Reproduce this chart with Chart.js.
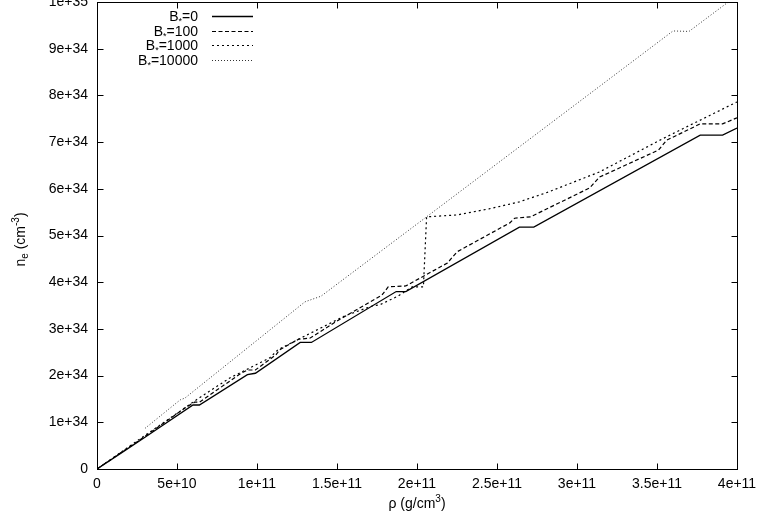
<!DOCTYPE html>
<html>
<head>
<meta charset="utf-8">
<script src="https://cdn.jsdelivr.net/npm/chart.js@4.4.0/dist/chart.umd.min.js"></script>
<style>
  html, body { margin: 0; padding: 0; background: #fff; }
</style>
</head>
<body>
<canvas id="neChart" width="759" height="527"></canvas>
<script>
// rho in units of 1e10 g/cm^3, n_e in units of 1e34 cm^-3
const b0 = [[0,0],[1.5,0.34],[3,0.68],[6.0,1.37],[6.4,1.37],[9.4,2.02],[9.9,2.05],[12.7,2.71],[13.4,2.71],
  [18.7,3.80],[19.3,3.80],[26.4,5.18],[27.3,5.18],[37.7,7.15],[39.1,7.15],[40,7.30]];
const b100 = [[0,0],[3,0.70],[5.6,1.33],[6.1,1.43],[6.4,1.43],[9.0,2.05],[9.4,2.12],[9.9,2.12],[11.2,2.45],
  [11.4,2.55],[12.6,2.78],[13.3,2.80],[14.6,3.08],[14.9,3.15],[17.8,3.72],[18.2,3.90],[19.3,3.92],[21.9,4.41],
  [22.5,4.65],[25.8,5.27],[26.1,5.37],[27.1,5.40],[30.8,6.02],[31.4,6.25],[35.1,6.83],[35.6,7.04],[37.7,7.39],
  [39.1,7.39],[40,7.52]];
const b1000 = [[0,0],[3,0.72],[4.2,1.0],[6.2,1.48],[8.3,1.95],[10.8,2.38],[11.3,2.55],[13.0,2.85],[15.5,3.28],
  [17.2,3.49],[17.7,3.52],[18.8,3.70],[19.7,3.90],[20.4,3.90],[20.6,5.40],[22.5,5.44],[24.5,5.57],[26.4,5.72],
  [28.2,5.93],[31.4,6.36],[35.4,7.08],[40,7.86]];
const b10000 = [[3.0,0.87],[5.2,1.48],[5.5,1.52],[13.0,3.58],[14.0,3.70],[20.6,5.40],[36.0,9.38],[37.0,9.37],[40,10.14]];

const seriesNames = ['B*=0', 'B*=100', 'B*=1000', 'B*=10000'];
const xTickLabels = ['0', '5e+10', '1e+11', '1.5e+11', '2e+11', '2.5e+11', '3e+11', '3.5e+11', '4e+11'];
const yTickLabels = ['0', '1e+34', '2e+34', '3e+34', '4e+34', '5e+34', '6e+34', '7e+34', '8e+34', '9e+34', '1e+35'];
// axis titles with sub/superscripts: [text, shift] (shift >0 raised, <0 lowered)
const xTitle = [['ρ (g/cm', 0], ['3', 1], [')', 0]];
const yTitle = [['n', 0], ['e', -1], [' (cm', 0], ['-3', 1], [')', 0]];

const FONT = 'Liberation Sans, Arial, Helvetica, sans-serif';
const toXY = pts => pts.map(p => ({ x: p[0], y: p[1] }));

function drawRich(ctx, parts, cx, cy, angle) {
  const fontFor = s => (s === 0 ? '14px ' : '10px ') + FONT;
  let total = 0;
  const widths = parts.map(p => { ctx.font = fontFor(p[1]); const w = ctx.measureText(p[0]).width; total += w; return w; });
  ctx.save();
  ctx.translate(cx, cy);
  ctx.rotate(angle);
  ctx.fillStyle = '#000';
  ctx.textAlign = 'left';
  ctx.textBaseline = 'alphabetic';
  let x = -total / 2;
  parts.forEach((p, i) => {
    ctx.font = fontFor(p[1]);
    const dy = p[1] > 0 ? -6 : (p[1] < 0 ? 3 : 0);
    ctx.fillText(p[0], x, 5 + dy);
    x += widths[i];
  });
  ctx.restore();
}

// gnuplot-like border with inward ticks on all four sides, plus axis titles
const frameTicks = {
  id: 'frameTicks',
  afterDraw(chart) {
    const { ctx, chartArea: a, scales: { x, y } } = chart;
    const L = Math.round(a.left) + 0.5, R = Math.round(a.right) + 0.5;
    const T = Math.round(a.top) + 0.5, B = Math.round(a.bottom) + 0.5;
    ctx.save();
    ctx.strokeStyle = '#000';
    ctx.lineWidth = 1;
    ctx.setLineDash([]);
    ctx.strokeRect(L, T, R - L, B - T);
    ctx.beginPath();
    x.ticks.forEach(t => {
      const px = Math.round(x.getPixelForValue(t.value)) + 0.5;
      ctx.moveTo(px, B); ctx.lineTo(px, B - 6);
      ctx.moveTo(px, T); ctx.lineTo(px, T + 6);
    });
    y.ticks.forEach(t => {
      const py = Math.round(y.getPixelForValue(t.value)) + 0.5;
      ctx.moveTo(L, py); ctx.lineTo(L + 6, py);
      ctx.moveTo(R, py); ctx.lineTo(R - 6, py);
    });
    ctx.stroke();
    ctx.restore();
    drawRich(ctx, xTitle, (a.left + a.right) / 2, 503, 0);
    drawRich(ctx, yTitle, 20, (a.top + a.bottom) / 2 + 4, -Math.PI / 2);
  }
};

// key in the top left corner: text right aligned, sample line after it
const keyBox = {
  id: 'keyBox',
  afterDraw(chart) {
    const { ctx, chartArea: a } = chart;
    ctx.save();
    chart.data.datasets.forEach((ds, i) => {
      const cy = a.top + 14 + i * 14.7;
      const base = cy + 5;
      const parts = ds.label.split('*');
      ctx.font = '14px ' + FONT;
      const w1 = ctx.measureText(parts[0]).width;
      const w3 = ctx.measureText(parts[1]).width;
      ctx.font = '9px ' + FONT;
      const w2 = ctx.measureText('*').width;
      let tx = a.left + 101 - (w1 + w2 + w3);
      ctx.fillStyle = '#000';
      ctx.textBaseline = 'alphabetic';
      ctx.textAlign = 'left';
      ctx.font = '14px ' + FONT;
      ctx.fillText(parts[0], tx, base);
      ctx.font = '9px ' + FONT;
      ctx.fillText('*', tx + w1, base + 3);
      ctx.font = '14px ' + FONT;
      ctx.fillText(parts[1], tx + w1 + w2, base);
      ctx.strokeStyle = ds.borderColor;
      ctx.lineWidth = ds.borderWidth;
      ctx.setLineDash(ds.borderDash || []);
      ctx.beginPath();
      ctx.moveTo(a.left + 115, Math.round(cy) + 0.5);
      ctx.lineTo(a.left + 156, Math.round(cy) + 0.5);
      ctx.stroke();
    });
    ctx.restore();
  }
};

const neChart = new Chart(document.getElementById('neChart').getContext('2d'), {
  type: 'line',
  data: {
    datasets: [
      { label: seriesNames[0], data: toXY(b0), borderColor: '#000', borderWidth: 1.3, borderDash: [] },
      { label: seriesNames[1], data: toXY(b100), borderColor: '#000', borderWidth: 1.2, borderDash: [4, 2.5] },
      { label: seriesNames[2], data: toXY(b1000), borderColor: '#000', borderWidth: 1.2, borderDash: [2, 3] },
      { label: seriesNames[3], data: toXY(b10000), borderColor: '#333', borderWidth: 1, borderDash: [1, 2] }
    ]
  },
  options: {
    responsive: false,
    animation: false,
    devicePixelRatio: 1,
    elements: {
      point: { radius: 0, hoverRadius: 0 },
      line: { tension: 0, fill: false }
    },
    layout: { padding: { top: 2, right: 22, bottom: 0, left: 0 } },
    plugins: {
      legend: { display: false },
      tooltip: { enabled: false }
    },
    scales: {
      x: {
        type: 'linear',
        min: 0,
        max: 40,
        grid: { display: false, drawTicks: false },
        border: { display: false },
        ticks: {
          stepSize: 5,
          padding: 7,
          maxRotation: 0,
          color: '#000',
          font: { family: FONT, size: 14 },
          callback: (v, i) => xTickLabels[i]
        },
        afterFit(s) { s.height = 58; s.paddingLeft = 0; s.paddingRight = 0; }
      },
      y: {
        type: 'linear',
        min: 0,
        max: 10,
        grid: { display: false, drawTicks: false },
        border: { display: false },
        ticks: {
          stepSize: 1,
          padding: 9,
          color: '#000',
          font: { family: FONT, size: 14 },
          callback: (v, i) => yTickLabels[i]
        },
        afterFit(s) { s.width = 97; s.paddingTop = 0; s.paddingBottom = 0; }
      }
    }
  },
  plugins: [frameTicks, keyBox]
});
</script>
</body>
</html>
